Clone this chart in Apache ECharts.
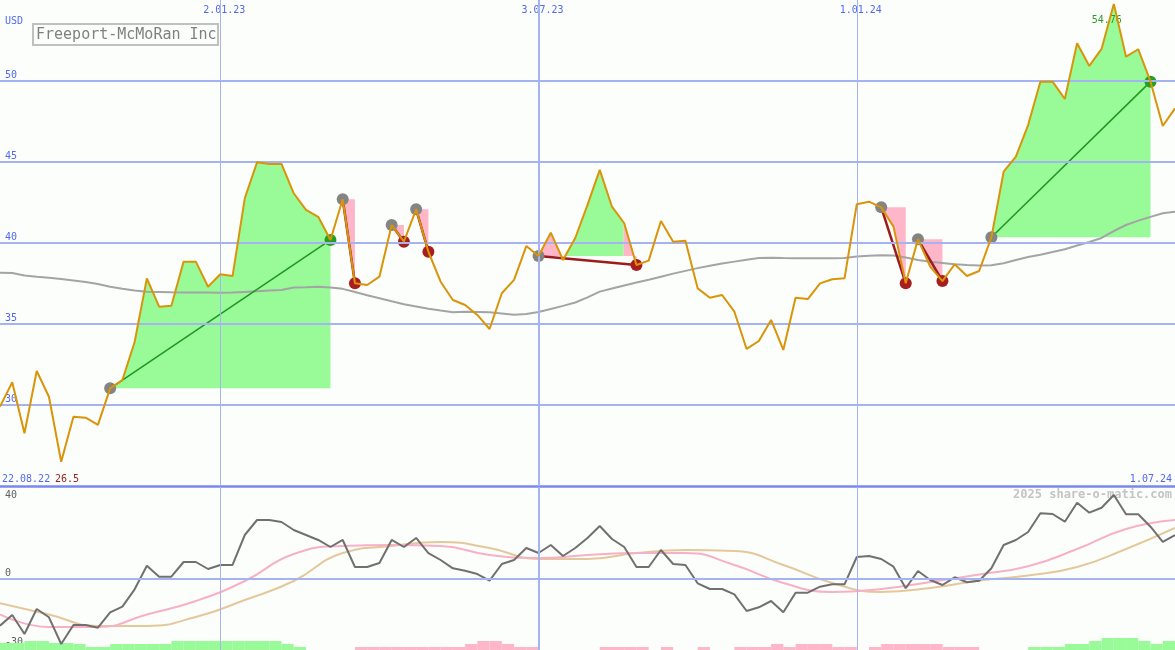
<!DOCTYPE html>
<html><head><meta charset="utf-8">
<script src="https://cdn.jsdelivr.net/npm/echarts@6/dist/echarts.min.js"></script>
<style>html,body{margin:0;padding:0;background:#fcfefc}#c{width:1175px;height:650px}</style>
</head><body><div id="c"></div><script>
// ---- data (weekly, index 0 = first week shown) ----
const xTickIdx = [18, 44, 70];
const xTickLabels = ['2.01.23', '3.07.23', '1.01.24'];
const priceTicks = [30, 35, 40, 45, 50];
const lowerTicks = [0, -30];
const lowerTopTick = [40];
const prices = [
29.90, 31.40, 28.25, 32.10, 30.51, 26.50, 29.28, 29.22, 28.77, 31.03,
31.54, 33.89, 37.82, 36.07, 36.13, 38.85, 38.85, 37.30, 38.07, 37.96,
42.76, 44.98, 44.88, 44.88, 43.07, 42.04, 41.62, 40.19, 42.70, 37.51,
37.41, 37.92, 41.11, 40.08, 42.08, 39.46, 37.61, 36.48, 36.17, 35.56,
34.69, 36.90, 37.72, 39.81, 39.20, 40.64, 38.95, 40.31, 42.35, 44.51,
42.24, 41.22, 38.64, 38.91, 41.36, 40.08, 40.14, 37.20, 36.62, 36.79,
35.76, 33.46, 33.95, 35.25, 33.40, 36.62, 36.54, 37.51, 37.76, 37.82,
42.39, 42.55, 42.20, 41.01, 37.51, 40.23, 38.54, 37.65, 38.69, 37.96,
38.27, 40.35, 44.40, 45.33, 47.28, 49.96, 49.96, 48.89, 52.33, 50.93,
51.98, 54.76, 51.50, 51.96, 49.96, 47.22, 48.31];
const movingAvg = [
38.17, 38.15, 37.99, 37.91, 37.85, 37.78, 37.69, 37.59, 37.47, 37.30,
37.18, 37.07, 36.99, 36.98, 36.96, 36.95, 36.94, 36.94, 36.93, 36.94,
36.98, 37.02, 37.07, 37.10, 37.25, 37.27, 37.30, 37.26, 37.17, 36.98,
36.77, 36.59, 36.40, 36.22, 36.08, 35.94, 35.83, 35.73, 35.76, 35.74,
35.72, 35.65, 35.57, 35.62, 35.74, 35.93, 36.12, 36.33, 36.64, 37.00,
37.19, 37.38, 37.56, 37.73, 37.92, 38.11, 38.28, 38.45, 38.59, 38.73,
38.85, 38.96, 39.07, 39.09, 39.07, 39.06, 39.06, 39.06, 39.06, 39.07,
39.16, 39.21, 39.25, 39.23, 39.10, 38.95, 38.84, 38.77, 38.69, 38.64,
38.61, 38.62, 38.75, 38.95, 39.14, 39.28, 39.44, 39.61, 39.85, 40.06,
40.31, 40.74, 41.11, 41.38, 41.61, 41.84, 41.93];
const momentum = [
-20.30, -15.65, -23.91, -13.04, -16.65, -28.26, -20.00, -20.00, -21.17, -14.48,
-12.04, -4.48, 5.78, 1.00, 1.00, 7.39, 7.39, 4.35, 6.09, 6.09,
19.13, 25.65, 25.65, 24.78, 21.30, 19.13, 16.96, 13.91, 16.96, 5.22,
5.22, 6.96, 16.96, 13.91, 17.83, 11.30, 8.26, 4.65, 3.61, 2.17,
-0.74, 6.52, 8.26, 13.48, 11.30, 14.78, 10.00, 13.48, 17.83, 23.04,
17.39, 13.91, 5.22, 5.22, 12.61, 6.52, 6.09, -1.87, -4.35, -4.35,
-6.65, -13.91, -12.30, -9.57, -14.48, -5.96, -5.96, -3.35, -2.30, -2.30,
9.57, 10.00, 8.70, 5.35, -4.04, 3.48, -0.43, -2.61, 0.74, -1.43,
-0.74, 4.65, 14.78, 16.96, 20.43, 28.57, 28.26, 24.91, 33.17, 28.83,
31.00, 36.52, 28.13, 28.13, 22.74, 16.09, 19.13];
// smooth signal lines, read every 4 weeks
const signalIdx = [0,4,8,12,16,20,24,28,32,36,40,44,48,52,56,60,64,68,72,76,80,84,88,92,96];
const pinkSignal = [-15.35,-20.87,-20.87,-15.43,-9.57,-0.87,10.87,14.35,14.78,14.35,10.43,9.13,10.43,11.30,11.30,6.09,-1.74,-5.65,-4.35,-1.30,1.96,5.52,13.04,21.74,25.65];
const tanSignal = [-10.57,-15.43,-20.43,-20.43,-16.52,-9.13,-0.87,11.30,14.35,16.09,13.48,8.70,8.70,11.30,12.61,12.17,6.09,-1.74,-5.65,-3.91,-0.65,1.52,5.22,13.04,22.17];
const hist = [
7, 7, 9, 9, 7, 7, 6, 3, 3, 6,
6, 6, 6, 6, 9, 9, 9, 9, 9, 9,
9, 9, 9, 6, 3, 0, 0, 0, 0, -3,
-3, -3, -3, -3, -3, -3, -3, -3, -6, -9,
-9, -6, -3, -3, 0, 0, 0, 0, 0, -3,
-3, -3, -3, 0, -3, 0, 0, -3, 0, 0,
-3, -3, -3, -6, -3, -6, -6, -6, -3, -3,
0, -3, -6, -6, -6, -6, -6, -3, -3, -3,
0, 0, 0, 0, 3, 3, 3, 6, 6, 9,
12, 12, 12, 9, 6, 9, 0];
const tradeStart = [9, 28, 32, 34, 44, 72, 75, 81];
const tradeEnd = [27, 29, 33, 35, 52, 74, 77, 94];
const tradeFill = [
  [[9, 27, 'win']], [[28, 29, 'loss']], [[32, 33, 'loss']], [[34, 35, 'loss']],
  [[44, 46.2, 'loss'], [46.2, 50.95, 'win'], [50.95, 52, 'loss']],
  [[72, 74, 'loss']], [[75, 77, 'loss']], [[81, 94, 'win']]];
const maxLabel = '54.76', minLabel = '26.5';
const firstDate = '22.08.22', lastDate = '1.07.24';

// ---- styles ----
const FONT = 'DejaVu Sans Mono';
const GREEN_FILL = '#98fb98', PINK_FILL = '#ffb6c8';
const GRID_BLUE = '#a6b3f2', LABEL_BLUE = '#5468ee';
const N = prices.length - 1;

function priceAt(t) {
  const i = Math.floor(t), f = t - i;
  if (i >= N) return prices[N];
  return prices[i] + (prices[i + 1] - prices[i]) * f;
}
function fillItem(params, api) {
  const k = params.dataIndex;
  const base = prices[tradeStart[k]];
  const children = tradeFill[k].map(([a, b, kind]) => {
    const pts = [api.coord([a, priceAt(a)])];
    for (let j = Math.floor(a) + 1; j < b - 1e-6; j++) pts.push(api.coord([j, prices[j]]));
    pts.push(api.coord([b, priceAt(b)]));
    pts.push(api.coord([b, base]));
    pts.push(api.coord([a, base]));
    return { type: 'polygon', shape: { points: pts }, style: { fill: kind === 'win' ? GREEN_FILL : PINK_FILL } };
  });
  return { type: 'group', children };
}
function tradeLineItem(params, api) {
  const k = params.dataIndex, s = tradeStart[k], e = tradeEnd[k];
  const p1 = api.coord([s, prices[s]]), p2 = api.coord([e, prices[e]]);
  const win = prices[e] > prices[s];
  return { type: 'line', shape: { x1: p1[0], y1: p1[1], x2: p2[0], y2: p2[1] },
    style: { stroke: win ? '#1f961f' : '#9c1c1c', lineWidth: win ? 1.5 : 2.5 } };
}
function histItem(params, api) {
  const i = api.value(0), h = api.value(1), sign = api.value(2);
  if (!h) return null;
  const p0 = api.coord([i, 0]), p1 = api.coord([i + 1, h]);
  return { type: 'rect', shape: { x: p0[0], y: p1[1], width: p1[0] - p0[0], height: p0[1] - p1[1] },
    style: { fill: sign > 0 ? GREEN_FILL : PINK_FILL } };
}
const vLines = xTickIdx.map((v, i) => ({ xAxis: v, lineStyle: { width: i === 1 ? 2 : 1, color: GRID_BLUE, type: 'solid' } }));
const tradeData = tradeStart.map((s, k) => [s, prices[s], tradeEnd[k], prices[tradeEnd[k]]]);
const wins = [], losses = [];
tradeEnd.forEach((e, k) => (prices[e] > prices[tradeStart[k]] ? wins : losses).push([e, prices[e]]));

const chart = echarts.init(document.getElementById('c'));
chart.setOption({
  animation: false,
  backgroundColor: '#fcfefc',
  title: { text: 'Freeport-McMoRan Inc', left: 33, top: 24, borderColor: '#c0c0c0', borderWidth: 2,
    padding: [3, 2, 2, 3], textStyle: { color: '#808080', fontFamily: FONT, fontSize: 15, fontWeight: 'normal', lineHeight: 16 } },
  grid: [
    { left: 0, right: 0, top: 0, height: 486 },
    { left: 0, right: 0, top: 487, height: 163 },
    { left: 0, right: 0, top: 638, height: 12 }
  ],
  xAxis: [
    { gridIndex: 0, type: 'value', min: 0, max: N, position: 'top', axisLine: { show: false }, axisTick: { show: false }, splitLine: { show: false },
      axisLabel: { inside: true, customValues: xTickIdx, formatter: v => xTickLabels[xTickIdx.indexOf(v)] || '', color: LABEL_BLUE,
        fontFamily: FONT, fontSize: 10, margin: 5, padding: [0, 0, 0, 8] } },
    { gridIndex: 1, type: 'value', min: 0, max: N, show: false },
    { gridIndex: 2, type: 'value', min: 0, max: N, show: false }
  ],
  yAxis: [
    { gridIndex: 0, type: 'value', position: 'left', min: 25, max: 55, axisLine: { show: false }, axisTick: { show: false }, splitLine: { show: false },
      axisLabel: { inside: true, customValues: priceTicks, color: LABEL_BLUE, fontFamily: FONT, fontSize: 10, verticalAlign: 'bottom', margin: 5, padding: [0, 0, 1, 0] } },
    { gridIndex: 1, type: 'value', position: 'left', min: -30.87, max: 40, axisLine: { show: false }, axisTick: { show: false }, splitLine: { show: false },
      axisLabel: { inside: true, customValues: lowerTicks, color: '#606060', fontFamily: FONT, fontSize: 10, verticalAlign: 'bottom', margin: 5, padding: [0, 0, 1, 0] } },
    { gridIndex: 1, type: 'value', position: 'left', offset: 0, min: -30.87, max: 40, axisLine: { show: false }, axisTick: { show: false }, splitLine: { show: false },
      axisLabel: { inside: true, customValues: lowerTopTick, color: '#606060', fontFamily: FONT, fontSize: 10, verticalAlign: 'top', margin: 5, padding: [3, 0, 0, 0] } },
    { gridIndex: 2, type: 'value', min: 0, max: 12, show: false }
  ],
  graphic: [
    { type: 'text', left: 5, top: 16, style: { text: 'USD', fill: LABEL_BLUE, font: '10px ' + FONT } },
    { type: 'text', left: 2, top: 474, style: { text: firstDate, fill: LABEL_BLUE, font: '10px ' + FONT } },
    { type: 'text', left: 55, top: 474, style: { text: minLabel, fill: '#a02020', font: '10px ' + FONT } },
    { type: 'text', right: 3, top: 474, style: { text: lastDate, fill: LABEL_BLUE, font: '10px ' + FONT } },
    { type: 'text', right: 3, top: 489, style: { text: '2025 share-o-matic.com', fill: '#c4c4c4', font: 'bold 12px ' + FONT } }
  ],
  series: [
    { type: 'line', xAxisIndex: 0, yAxisIndex: 0, z: 0, data: [[0, 40]], symbol: 'none', lineStyle: { opacity: 0 }, silent: true,
      markLine: { silent: true, symbol: 'none', label: { show: false },
        data: priceTicks.map(v => ({ yAxis: v, lineStyle: { color: GRID_BLUE, width: 2, type: 'solid' } }))
          .concat([{ yAxis: 25, lineStyle: { color: '#7a88ee', width: 2.5, type: 'solid' } }]).concat(vLines) } },
    { type: 'custom', xAxisIndex: 0, yAxisIndex: 0, z: 1, renderItem: fillItem, data: tradeData, encode: { x: [0, 2], y: [1, 3] }, silent: true },
    { type: 'line', xAxisIndex: 0, yAxisIndex: 0, z: 2, data: movingAvg.map((v, i) => [i, v]), symbol: 'none', lineStyle: { color: '#a4a4a4', width: 2 } },
    { type: 'custom', xAxisIndex: 0, yAxisIndex: 0, z: 3, renderItem: tradeLineItem, data: tradeData, encode: { x: [0, 2], y: [1, 3] }, silent: true },
    { type: 'scatter', xAxisIndex: 0, yAxisIndex: 0, z: 4, symbolSize: 12, itemStyle: { color: '#848484', opacity: 1 }, data: tradeStart.map(s => [s, prices[s]]) },
    { type: 'scatter', xAxisIndex: 0, yAxisIndex: 0, z: 4, symbolSize: 12, itemStyle: { color: '#22a022', opacity: 1 }, data: wins },
    { type: 'scatter', xAxisIndex: 0, yAxisIndex: 0, z: 4, symbolSize: 12, itemStyle: { color: '#a81e1e', opacity: 1 }, data: losses },
    { type: 'line', xAxisIndex: 0, yAxisIndex: 0, z: 5, data: prices.map((v, i) => [i, v]), symbol: 'none', lineStyle: { color: '#d9940a', width: 2 },
      markPoint: { symbol: 'circle', symbolSize: 1, itemStyle: { color: 'rgba(0,0,0,0)' },
        label: { show: true, position: 'inside', offset: [-7, 17], formatter: maxLabel, color: '#2a9a2a', fontFamily: FONT, fontSize: 10 },
        data: [{ coord: [prices.indexOf(Math.max(...prices)), Math.max(...prices)] }] } },
    // lower panel
    { type: 'line', xAxisIndex: 1, yAxisIndex: 1, z: 0, data: [[0, 0]], symbol: 'none', lineStyle: { opacity: 0 }, silent: true,
      markLine: { silent: true, symbol: 'none', label: { show: false },
        data: [{ yAxis: 0, lineStyle: { color: GRID_BLUE, width: 2, type: 'solid' } }].concat(vLines) } },
    { type: 'custom', xAxisIndex: 2, yAxisIndex: 3, z: 1, renderItem: histItem, data: hist.map((v, i) => [i, Math.abs(v), v]), encode: { x: 0, y: 1 }, silent: true },
    { type: 'line', xAxisIndex: 1, yAxisIndex: 1, z: 2, smooth: true, data: signalIdx.map((x, k) => [x, tanSignal[k]]), symbol: 'none', lineStyle: { color: '#e4c89c', width: 2 } },
    { type: 'line', xAxisIndex: 1, yAxisIndex: 1, z: 3, smooth: true, data: signalIdx.map((x, k) => [x, pinkSignal[k]]), symbol: 'none', lineStyle: { color: '#f8b0c6', width: 2 } },
    { type: 'line', xAxisIndex: 1, yAxisIndex: 1, z: 4, data: momentum.map((v, i) => [i, v]), symbol: 'none', lineStyle: { color: '#707070', width: 2 } }
  ]
});
</script></body></html>
